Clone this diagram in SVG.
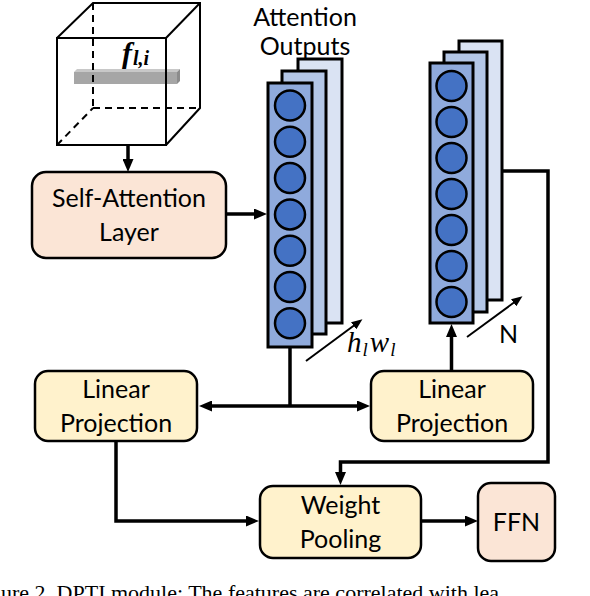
<svg xmlns="http://www.w3.org/2000/svg" width="590" height="596" viewBox="0 0 590 596">
<defs>
<style>
.box{stroke:#000;stroke-width:2.5}
.peach{fill:#fbe5d6}
.yel{fill:#fff2cc}
.lbl{font-family:Lato,"Open Sans",sans-serif;font-size:25px;fill:#000;text-anchor:middle}
.conn{fill:none;stroke:#000;stroke-width:3.5}
.thin{fill:none;stroke:#000;stroke-width:2}
.cube{fill:none;stroke:#000;stroke-width:2}
.dash{stroke-dasharray:7 5}
.s1{fill:#8faadc;stroke:#000;stroke-width:3}
.s2{fill:#b4c7e7;stroke:#000;stroke-width:3}
.s3{fill:#dae3f3;stroke:#000;stroke-width:3}
.dot{fill:#4472c4;stroke:#000;stroke-width:2.5}
</style>
<marker id="ah" markerUnits="userSpaceOnUse" markerWidth="13" markerHeight="11" refX="4" refY="5.5" orient="auto">
<path d="M0,0 L13,5.5 L0,11 z" fill="#000"/>
</marker>
<marker id="ahs" markerUnits="userSpaceOnUse" markerWidth="11" markerHeight="9" refX="3" refY="4.5" orient="auto">
<path d="M0,0 L11,4.5 L0,9 z" fill="#000"/>
</marker>
</defs>
<rect width="590" height="596" fill="#fff"/>

<g id="cube">
<polygon points="74,72 77,69 180,69 177,72" fill="#c8c8c8"/>
<rect x="74" y="72" width="103" height="12" fill="#a6a6a6"/>
<polygon points="177,72 180,69 180,81 177,84" fill="#8c8c8c"/>
<line class="cube dash" x1="93" y1="3" x2="93" y2="108"/>
<line class="cube dash" x1="93" y1="108" x2="200" y2="108"/>
<line class="cube dash" x1="57" y1="145" x2="93" y2="108"/>
<rect class="cube" x="57" y="38" width="109" height="107"/>
<polyline class="cube" points="57,38 93,3 200,3 200,108 166,145"/>
<line class="cube" x1="166" y1="38" x2="200" y2="3"/>
<text x="122" y="63" font-family="'Liberation Serif',serif" font-style="italic" font-weight="bold" font-size="30">f<tspan font-size="20" dy="2" dx="1">l,i</tspan></text>
</g>

<g id="self-attention">
<rect class="box peach" x="32" y="172" width="194" height="86" rx="14"/>
<text class="lbl" x="129" y="207">Self-Attention</text>
<text class="lbl" x="129" y="241">Layer</text>
</g>

<g id="attention-outputs">
<text class="lbl" x="305" y="26">Attention</text>
<text class="lbl" x="305" y="55">Outputs</text>
<rect class="s3" x="298" y="59" width="44" height="264"/>
<rect class="s2" x="282" y="71" width="44" height="263"/>
<rect class="s1" x="268" y="83" width="44" height="264"/>
<circle class="dot" cx="290" cy="105.5" r="15"/>
<circle class="dot" cx="290" cy="141.8" r="15"/>
<circle class="dot" cx="290" cy="178.1" r="15"/>
<circle class="dot" cx="290" cy="214.4" r="15"/>
<circle class="dot" cx="290" cy="250.7" r="15"/>
<circle class="dot" cx="290" cy="287" r="15"/>
<circle class="dot" cx="290" cy="323.3" r="15"/>
<text x="347" y="352" font-family="'Liberation Serif',serif" font-style="italic" font-size="29">h<tspan font-size="19" dy="4" dx="1">l</tspan><tspan dy="-4" dx="2">w</tspan><tspan font-size="19" dy="4" dx="1">l</tspan></text>
</g>

<g id="projected-stack">
<rect class="s3" x="459" y="41" width="43" height="259"/>
<rect class="s2" x="444" y="52" width="43" height="260"/>
<rect class="s1" x="430" y="63" width="43" height="260"/>
<circle class="dot" cx="451.5" cy="86" r="15"/>
<circle class="dot" cx="451.5" cy="122" r="15"/>
<circle class="dot" cx="451.5" cy="158" r="15"/>
<circle class="dot" cx="451.5" cy="194" r="15"/>
<circle class="dot" cx="451.5" cy="230" r="15"/>
<circle class="dot" cx="451.5" cy="266" r="15"/>
<circle class="dot" cx="451.5" cy="302" r="15"/>
<text x="499" y="343" font-family="Lato,'Open Sans',sans-serif" font-size="25">N</text>
</g>

<g id="linear-projection-left">
<rect class="box yel" x="35" y="371" width="162" height="70" rx="13"/>
<text class="lbl" x="116" y="398">Linear</text>
<text class="lbl" x="116" y="432">Projection</text>
</g>

<g id="linear-projection-right">
<rect class="box yel" x="371" y="371" width="162" height="70" rx="13"/>
<text class="lbl" x="452" y="398">Linear</text>
<text class="lbl" x="452" y="432">Projection</text>
</g>

<g id="weight-pooling">
<rect class="box yel" x="260" y="486" width="161" height="72" rx="13"/>
<text class="lbl" x="340.5" y="514">Weight</text>
<text class="lbl" x="340.5" y="548">Pooling</text>
</g>

<g id="ffn">
<rect class="box peach" x="478" y="483" width="77" height="78" rx="13"/>
<text class="lbl" x="516.5" y="531">FFN</text>
</g>

<g id="connectors">
<path class="conn" d="M128,145 V163" marker-end="url(#ah)"/>
<path class="conn" d="M226,214 H258" marker-end="url(#ah)"/>
<path class="conn" d="M290,347 V406"/>
<path class="conn" d="M290,406 H208" marker-end="url(#ah)"/>
<path class="conn" d="M290,406 H361" marker-end="url(#ah)"/>
<path class="conn" d="M451.5,370 V333" marker-end="url(#ah)"/>
<path class="conn" d="M503,171 H548 V462 H340.5 V476" marker-end="url(#ah)"/>
<path class="conn" d="M116,441 V521 H250" marker-end="url(#ah)"/>
<path class="conn" d="M421,521 H469" marker-end="url(#ah)"/>
<path class="thin" d="M306,361 L356,324" marker-end="url(#ahs)"/>
<path class="thin" d="M467,337 L516,301" marker-end="url(#ahs)"/>
</g>

<text x="1" y="600" font-family="'Liberation Serif',serif" font-size="22">ure 2. DPTI module: The features are correlated with lea</text>
</svg>
